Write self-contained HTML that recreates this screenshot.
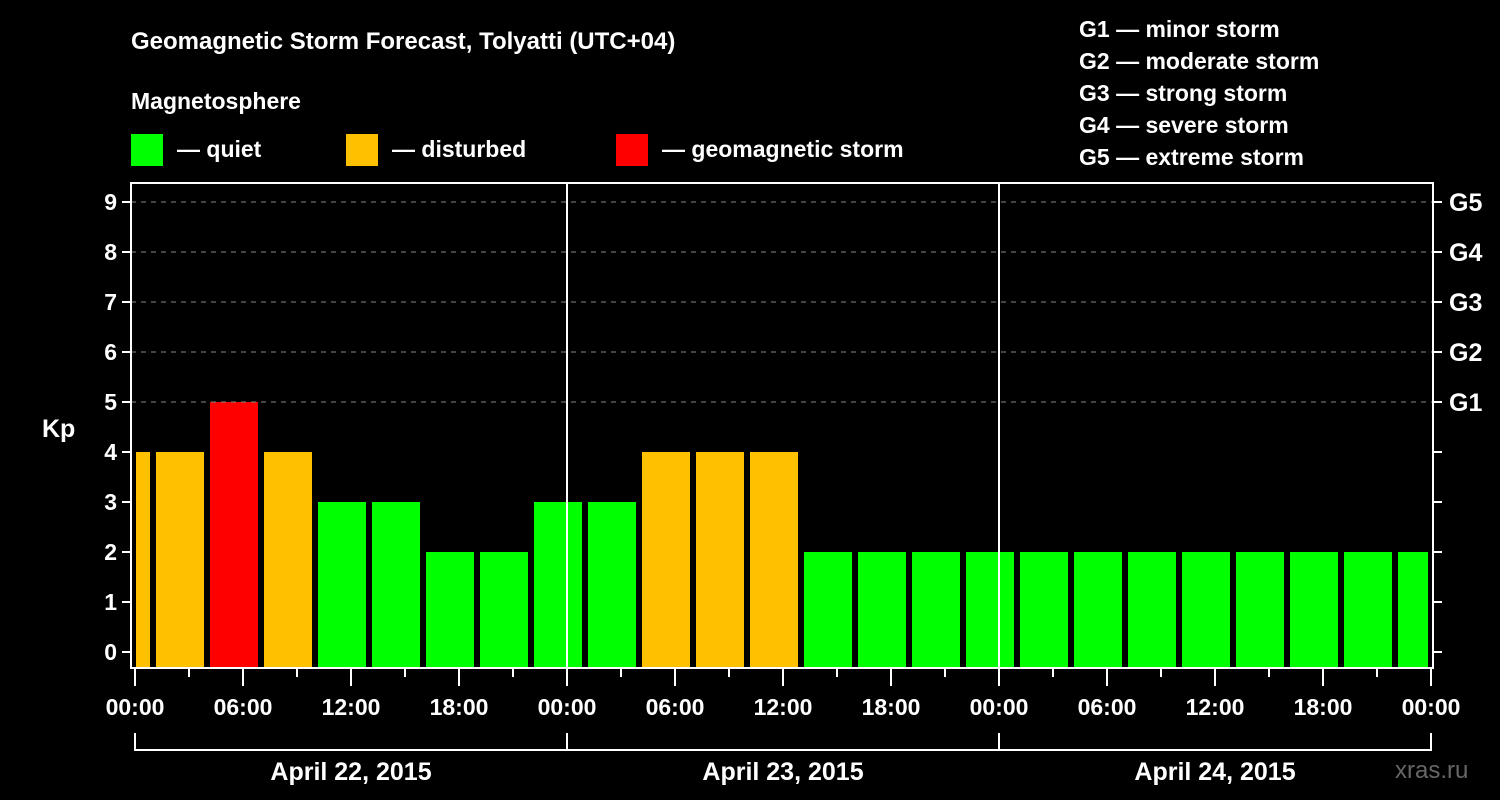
<!DOCTYPE html>
<html><head><meta charset="utf-8"><style>
body{margin:0;background:#000;}
svg{display:block;font-family:"Liberation Sans",sans-serif;font-weight:bold;}
</style></head><body>
<svg id="c" width="1500" height="800" viewBox="0 0 1500 800">
<rect width="1500" height="800" fill="#000"/>
<text x="131" y="49" fill="#fff" font-size="24">Geomagnetic Storm Forecast, Tolyatti (UTC+04)</text>
<text x="131" y="109" fill="#fff" font-size="23">Magnetosphere</text>
<g><rect x="131" y="134" width="32" height="32" fill="#00ff00"/><text x="177" y="157" fill="#fff" font-size="23">— quiet</text></g>
<g><rect x="346" y="134" width="32" height="32" fill="#ffc000"/><text x="392" y="157" fill="#fff" font-size="23">— disturbed</text></g>
<g><rect x="616" y="134" width="32" height="32" fill="#ff0000"/><text x="662" y="157" fill="#fff" font-size="23">— geomagnetic storm</text></g>
<g fill="#fff" font-size="23">
<text x="1079" y="37">G1 — minor storm</text>
<text x="1079" y="69">G2 — moderate storm</text>
<text x="1079" y="101">G3 — strong storm</text>
<text x="1079" y="133">G4 — severe storm</text>
<text x="1079" y="165">G5 — extreme storm</text>
</g>
<text x="42" y="437" fill="#fff" font-size="25">Kp</text>
<text x="1395" y="778" fill="#666" font-size="24" font-weight="normal">xras.ru</text>
<g id="bars"></g>
<g id="axes"></g>
</svg>
<script>
const kpValues=[4,4,5,4,3,3,2,2,3,3,4,4,4,2,2,2,2,2,2,2,2,2,2,2,2];
const yTicks=[0,1,2,3,4,5,6,7,8,9];
const gLabels={5:'G1',6:'G2',7:'G3',8:'G4',9:'G5'};
const dayLabels=['April 22, 2015','April 23, 2015','April 24, 2015'];
const hourLabels=['00:00','06:00','12:00','18:00'];
const firstBarHour=-2, barStep=3;

const L=131,R=1433,T=183,B=668,X0=135,PXH=18;
const y=v=>652-50*v;
const x=h=>X0+h*PXH;
const NS='http://www.w3.org/2000/svg';
function mk(tag,attrs,parent){const e=document.createElementNS(NS,tag);for(const k in attrs)e.setAttribute(k,attrs[k]);parent.appendChild(e);return e;}
const bars=document.getElementById('bars'),axes=document.getElementById('axes');
const color=v=>v>=5?'#ff0000':(v>=4?'#ffc000':'#00ff00');

yTicks.forEach(v=>{
  if(v>=5){const l=mk('line',{x1:L,x2:R,y1:y(v),y2:y(v),stroke:'#888','stroke-width':1,'stroke-dasharray':'5,5'},axes);
  
  }
  const t=mk('line',{x1:L-9,x2:L,y1:y(v),y2:y(v),stroke:'#fff','stroke-width':2},axes);
  
  
  const t2=mk('line',{x1:R,x2:R+9,y1:y(v),y2:y(v),stroke:'#fff','stroke-width':2},axes);
  
  
  const lb=mk('text',{x:L-14,y:y(v)+8,fill:'#fff','font-size':23,'text-anchor':'end'},axes);lb.textContent=v;
  
  
  if(gLabels[v]){const g=mk('text',{x:R+16,y:y(v)+9,fill:'#fff','font-size':25},axes);g.textContent=gLabels[v];
  
  }
});

kpValues.forEach((v,i)=>{
  let x1=x(firstBarHour+i*barStep)+3,x2=x(firstBarHour+(i+1)*barStep)-3;
  x1=Math.max(x1,L+5);x2=Math.min(x2,R-5);
  const r=mk('rect',{x:x1,y:y(v),width:x2-x1,height:B-y(v),fill:color(v)},bars);
  
  
});

// frame
const f=mk('rect',{x:L,y:T,width:R-L,height:B-T,fill:'none',stroke:'#fff','stroke-width':2},axes);


for(let d=1;d<dayLabels.length;d++){
  const l=mk('line',{x1:x(24*d),x2:x(24*d),y1:T,y2:B,stroke:'#fff','stroke-width':2},axes);
  
  
}
for(let h=0;h<=72;h+=3){
  const major=h%6===0;
  const t=mk('line',{x1:x(h),x2:x(h),y1:B,y2:B+(major?18:9),stroke:'#fff','stroke-width':2},axes);
  
  
  if(major){const lb=mk('text',{x:x(h),y:715,fill:'#fff','font-size':23,'text-anchor':'middle'},axes);
  lb.textContent=hourLabels[(h/6)%4];
  
  }
}
dayLabels.forEach((d,i)=>{
  const a=x(24*i),b=x(24*(i+1));
  const p=mk('path',{d:`M${a} 733V750H${b}`+(i===dayLabels.length-1?`V733`:''),fill:'none',stroke:'#fff','stroke-width':2},axes);
  
  
  const t=mk('text',{x:(a+b)/2,y:780,fill:'#fff','font-size':25,'text-anchor':'middle'},axes);t.textContent=d;
  
  
});
</script>
</body></html>
